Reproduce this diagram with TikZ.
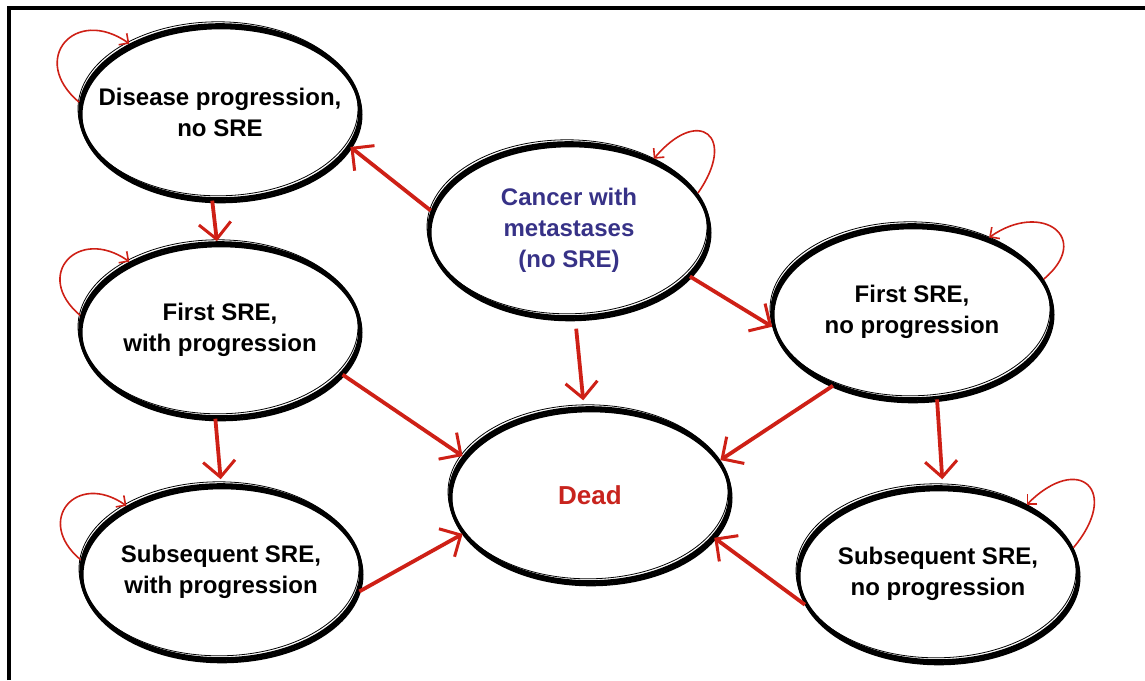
\documentclass[tikz,border=0pt]{standalone}
\usepackage{fontspec}
\setmainfont{Liberation Sans}
\usetikzlibrary{arrows.meta, shapes.geometric}
\definecolor{arrred}{RGB}{206,32,22}
\definecolor{deadred}{RGB}{200,36,30}
\definecolor{mblue}{RGB}{55,50,135}

\begin{document}
\begin{tikzpicture}[x=0.5pt, y=0.5pt,
    every node/.style={font=\fontsize{12}{15.5}\selectfont\bfseries},
    st/.style={ellipse, draw, line width=1.8pt, minimum width=140pt, minimum height=87pt, inner sep=-40pt, align=center,
      postaction={draw, line width=1.5pt, transform canvas={xshift=0.5pt, yshift=-1.4pt}},
      postaction={draw, line width=0.4pt, transform canvas={xshift=-1pt, yshift=1.6pt}}},
    a/.style={draw=arrred, line width=1.9pt, -{Straight Barb[length=8pt, width=16pt, line width=1.5pt]}},
    lp/.style={draw=arrred, line width=0.8pt, -{Straight Barb[length=3.5pt, width=7pt]}, looseness=2.2}
]
\useasboundingbox (0,0) rectangle (1145,-680);
\draw[line width=2pt] (8.5,-680) -- (8.5,-7.5) -- (1145,-7.5);

\node[st] (dis) at (220,-112) {Disease progression,\\ no SRE};
\node[st, text=mblue] (can) at (569,-230) {Cancer with\\ metastases\\ (no SRE)};
\node[st] (fwp) at (220,-330) {First SRE,\\ with progression};
\node[st] (fnp) at (912,-312) {First SRE,\\ no progression};
\node[st, text=deadred, font=\fontsize{13}{16}\selectfont\bfseries] (dead) at (590,-495) {Dead};
\node[st] (swp) at (221,-572) {Subsequent SRE,\\ with progression};
\node[st] (snp) at (938,-574) {Subsequent SRE,\\ no progression};

\draw[a] (can.172) -- (dis.-15);
\draw[a] (can.-21) -- (fnp.186);
\draw[a, shorten <=5pt, shorten >=3pt] (can.-86) -- (dead.94);
\draw[a] (dis.-95) -- (fwp.92);
\draw[a, shorten >=2pt] (fwp.-93) -- (swp.90);
\draw[a] (fwp.-20) -- (dead.163);
\draw[a] (swp.-8) -- (dead.197);
\draw[a] (fnp.223) -- (dead.15);
\draw[a] (snp.193) -- (dead.-19);
\draw[a, shorten >=3pt] (fnp.-74) -- (snp.87);

\draw[lp] (dis.176) to[out=140, in=145] (dis.143);
\draw[lp] (fwp.174) to[out=140, in=145] (fwp.143);
\draw[lp] (swp.175) to[out=140, in=145] (swp.145);
\draw[lp] (can.16) to[out=55, in=50, looseness=3.2] (can.40);
\draw[lp] (fnp.14) to[out=40, in=35, looseness=2.4] (fnp.44);
\draw[lp] (snp.11) to[out=50, in=45, looseness=3] (snp.38);
\end{tikzpicture}
\end{document}
